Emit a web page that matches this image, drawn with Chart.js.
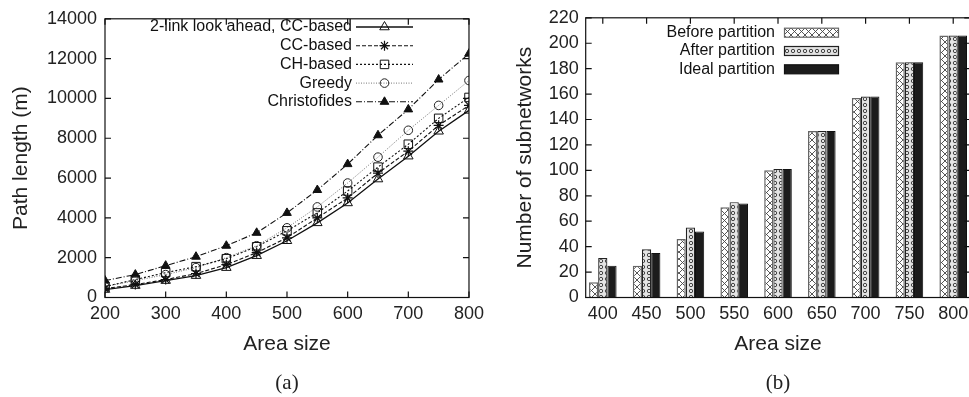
<!DOCTYPE html>
<html>
<head>
<meta charset="utf-8">
<script src="https://cdn.jsdelivr.net/npm/chart.js@4.4.0/dist/chart.umd.min.js"></script>
<style>
  html, body { margin: 0; padding: 0; background: #fff; overflow: hidden; }
  body { width: 969px; height: 397px; position: relative; }
  #grafA { position: absolute; left: 0; top: 0; }
  #grafB { position: absolute; left: 490px; top: 0; }
  .didascalia { position: absolute; top: 368px; width: 80px; text-align: center; line-height: 28px;
    font-family: "Liberation Serif", "DejaVu Serif", serif; font-size: 21px; color: #222; }
</style>
</head>
<body>
<canvas id="grafA" width="490" height="397"></canvas>
<canvas id="grafB" width="500" height="397"></canvas>
<div class="didascalia" style="left:247px">(a)</div>
<div class="didascalia" style="left:738px">(b)</div>
<script>
// (a) lunghezza del percorso
const areaA = [200, 250, 300, 350, 400, 450, 500, 550, 600, 650, 700, 750, 800];
const twoLink = [400, 600, 850, 1100, 1500, 2100, 2850, 3750, 4750, 5950, 7100, 8350, 9400];
const ccBased = [450, 650, 900, 1200, 1650, 2250, 3000, 4000, 5000, 6250, 7350, 8650, 9650];
const chBased = [550, 900, 1250, 1550, 1950, 2550, 3350, 4250, 5350, 6550, 7700, 9000, 10050];
const greedy = [550, 850, 1150, 1500, 2000, 2600, 3500, 4550, 5750, 7050, 8400, 9650, 10900];
const christofides = [850, 1150, 1600, 2050, 2600, 3250, 4250, 5400, 6700, 8150, 9450, 10950, 12250];

// (b) numero di sottoreti
const areaB = ['400', '450', '500', '550', '600', '650', '700', '750', '800'];
const primaPart = [12, 25, 46, 71, 100, 131, 157, 185, 206];
const dopoPart = [31, 38, 55, 75, 101, 131, 158, 185, 206];
const idealePart = [25, 35, 52, 74, 101, 131, 158, 185, 206];

Chart.defaults.font.family = '"Liberation Sans", Arial, sans-serif';
Chart.defaults.color = '#222';

const coppie = (xs, ys) => xs.map((x, i) => ({ x: x, y: ys[i] }));

function cornice(conTickSotto) {
  return {
    id: 'cornice',
    afterDraw(chart) {
      const { ctx, chartArea: a, scales } = chart;
      ctx.save();
      ctx.setLineDash([]);
      ctx.strokeStyle = '#111';
      ctx.lineWidth = 1.2;
      ctx.strokeRect(a.left, a.top, a.right - a.left, a.bottom - a.top);
      ctx.beginPath();
      scales.y.ticks.forEach(t => {
        const p = scales.y.getPixelForValue(t.value);
        ctx.moveTo(a.left, p); ctx.lineTo(a.left + 6, p);
        ctx.moveTo(a.right, p); ctx.lineTo(a.right - 6, p);
      });
      scales.x.ticks.forEach(t => {
        const p = scales.x.getPixelForValue(t.value);
        ctx.moveTo(p, a.top); ctx.lineTo(p, a.top + 6);
        if (conTickSotto) { ctx.moveTo(p, a.bottom); ctx.lineTo(p, a.bottom - 6); }
      });
      ctx.stroke();
      ctx.restore();
    }
  };
}

const legendaLinee = {
  id: 'legendaLinee',
  afterDraw(chart) {
    const ctx = chart.ctx;
    ctx.save();
    ctx.font = '16px "Liberation Sans", Arial, sans-serif';
    ctx.textAlign = 'right';
    ctx.textBaseline = 'middle';
    chart.data.datasets.forEach((ds, i) => {
      const y = 27 + i * 18.7;
      ctx.fillStyle = '#111';
      ctx.fillText(ds.label, 352, y);
      ctx.strokeStyle = ds.borderColor;
      ctx.lineWidth = ds.borderWidth;
      ctx.setLineDash(ds.borderDash || []);
      ctx.beginPath();
      ctx.moveTo(356, y); ctx.lineTo(413, y);
      ctx.stroke();
      ctx.setLineDash([]);
      ctx.fillStyle = ds.pointBackgroundColor;
      ctx.strokeStyle = ds.pointBorderColor;
      ctx.lineWidth = ds.pointBorderWidth;
      Chart.helpers.drawPoint(ctx, { pointStyle: ds.pointStyle, radius: ds.pointRadius, rotation: 0, borderWidth: ds.pointBorderWidth }, 384.5, y);
    });
    ctx.restore();
  }
};

const legendaBarre = {
  id: 'legendaBarre',
  afterDraw(chart) {
    const ctx = chart.ctx;
    ctx.save();
    ctx.font = '16px "Liberation Sans", Arial, sans-serif';
    ctx.textAlign = 'right';
    ctx.textBaseline = 'middle';
    chart.data.datasets.forEach((ds, i) => {
      const y = 32.7 + i * 18.3;
      ctx.fillStyle = '#111';
      ctx.fillText(ds.label, 285, y);
      ctx.fillStyle = ds.backgroundColor;
      ctx.fillRect(294, y - 4.5, 55, 9);
      ctx.strokeStyle = ds.borderColor;
      ctx.lineWidth = 1.2;
      ctx.strokeRect(294.5, y - 4.5, 54, 9);
    });
    ctx.restore();
  }
};

new Chart(document.getElementById('grafA').getContext('2d'), {
  type: 'line',
  data: {
    datasets: [
      { label: '2-link look ahead, CC-based', data: coppie(areaA, twoLink), borderColor: '#111', borderWidth: 1.3,
        pointStyle: 'triangle', pointRadius: 5.5, pointBackgroundColor: 'rgba(0,0,0,0)', pointBorderColor: '#111', pointBorderWidth: 1 },
      { label: 'CC-based', data: coppie(areaA, ccBased), borderColor: '#111', borderWidth: 1.1, borderDash: [4, 2],
        pointStyle: 'star', pointRadius: 5, pointBackgroundColor: 'rgba(0,0,0,0)', pointBorderColor: '#111', pointBorderWidth: 1.2 },
      { label: 'CH-based', data: coppie(areaA, chBased), borderColor: '#111', borderWidth: 1.1, borderDash: [2, 2],
        pointStyle: 'rect', pointRadius: 6, pointBackgroundColor: 'rgba(0,0,0,0)', pointBorderColor: '#111', pointBorderWidth: 1 },
      { label: 'Greedy', data: coppie(areaA, greedy), borderColor: '#777', borderWidth: 1, borderDash: [1, 1.5],
        pointStyle: 'circle', pointRadius: 4.3, pointBackgroundColor: 'rgba(0,0,0,0)', pointBorderColor: '#222', pointBorderWidth: 1 },
      { label: 'Christofides', data: coppie(areaA, christofides), borderColor: '#111', borderWidth: 1.1, borderDash: [6, 2, 1, 2],
        pointStyle: 'triangle', pointRadius: 5, pointBackgroundColor: '#111', pointBorderColor: '#111', pointBorderWidth: 1 }
    ]
  },
  options: {
    responsive: false,
    animation: false,
    layout: { padding: { left: 0, top: 17, right: 19, bottom: 40 } },
    plugins: { legend: { display: false }, tooltip: { enabled: false } },
    scales: {
      x: {
        type: 'linear', min: 200, max: 800,
        grid: { display: false, drawTicks: false },
        border: { display: false },
        ticks: { stepSize: 100, padding: 6, font: { size: 18 }, callback: v => String(v) },
        title: { display: true, text: 'Area size', font: { size: 21 }, padding: { top: 0, bottom: 0 } },
        afterFit: s => { s.height = 59.5; }
      },
      y: {
        min: 0, max: 14000,
        grid: { display: false, drawTicks: false },
        border: { display: false },
        ticks: { stepSize: 2000, padding: 8, font: { size: 18 }, callback: v => String(v) },
        title: { display: true, text: 'Path length (m)', font: { size: 21 }, padding: { top: 8.4, bottom: 0 } },
        afterFit: s => { s.width = 105; }
      }
    }
  },
  plugins: [cornice(true), legendaLinee]
});

function trama(lato, disegna) {
  const c = document.createElement('canvas');
  c.width = c.height = lato;
  const g = c.getContext('2d');
  disegna(g, lato);
  return g.createPattern(c, 'repeat');
}

const trPrima = trama(7, (g, s) => {
  g.fillStyle = '#fff'; g.fillRect(0, 0, s, s);
  g.strokeStyle = '#444'; g.lineWidth = 0.9;
  g.beginPath(); g.moveTo(0, 0); g.lineTo(s, s); g.moveTo(s, 0); g.lineTo(0, s); g.stroke();
});
const trDopo = trama(6, (g, s) => {
  g.fillStyle = '#e4e4e4'; g.fillRect(0, 0, s, s);
  g.strokeStyle = '#444'; g.lineWidth = 1;
  g.beginPath(); g.arc(3, 3, 1.7, 0, Math.PI * 2); g.stroke();
});

new Chart(document.getElementById('grafB').getContext('2d'), {
  type: 'bar',
  data: {
    datasets: [
      { label: 'Before partition', data: coppie(areaB.map((_, i) => i), primaPart), backgroundColor: trPrima, borderColor: '#666', borderWidth: 1.5 },
      { label: 'After partition', data: coppie(areaB.map((_, i) => i), dopoPart), backgroundColor: trDopo, borderColor: '#222', borderWidth: 1.2 },
      { label: 'Ideal partition', data: coppie(areaB.map((_, i) => i), idealePart), backgroundColor: '#1c1c1c', borderColor: '#111', borderWidth: 1 }
    ]
  },
  options: {
    responsive: false,
    animation: false,
    barPercentage: 1,
    categoryPercentage: 0.63,
    layout: { padding: { left: 0, top: 17, right: 19.7, bottom: 40 } },
    plugins: { legend: { display: false }, tooltip: { enabled: false } },
    scales: {
      x: {
        type: 'linear', min: -0.39, max: 8.39, offset: false,
        grid: { display: false, drawTicks: false, offset: false },
        border: { display: false },
        afterBuildTicks: s => { s.ticks = areaB.map((_, i) => ({ value: i })); },
        ticks: { padding: 6, font: { size: 18 }, callback: v => areaB[v] },
        title: { display: true, text: 'Area size', font: { size: 21 }, padding: { top: 0, bottom: 0 } },
        afterFit: s => { s.height = 59.5; }
      },
      y: {
        min: 0, max: 220,
        grid: { display: false, drawTicks: false },
        border: { display: false },
        ticks: { stepSize: 20, padding: 7, font: { size: 18 } },
        title: { display: true, text: 'Number of subnetworks', font: { size: 21 }, padding: { top: 22.4, bottom: 0 } },
        afterFit: s => { s.width = 95.7; }
      }
    }
  },
  plugins: [cornice(false), legendaBarre]
});
</script>
</body>
</html>
